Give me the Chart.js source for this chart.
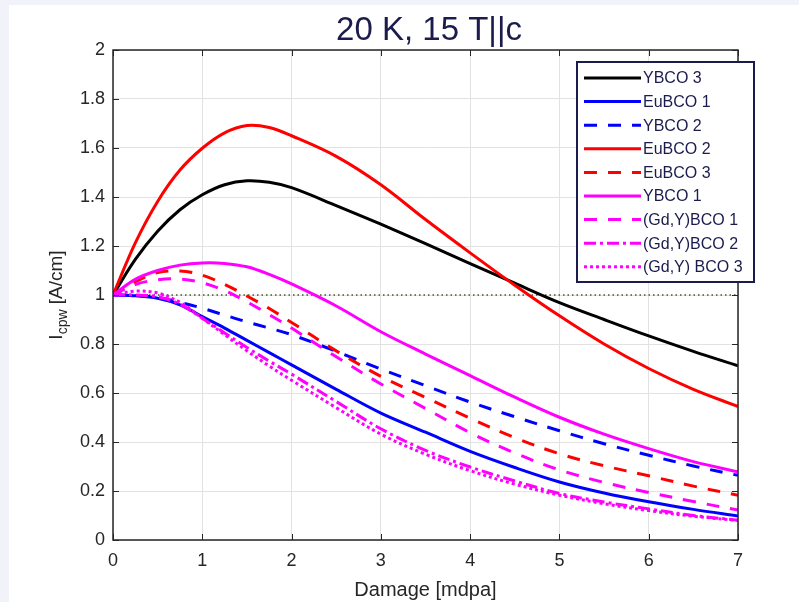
<!DOCTYPE html>
<html>
<head>
<meta charset="utf-8">
<script src="https://cdn.jsdelivr.net/npm/chart.js@4/dist/chart.umd.min.js"></script>
<style>
  html, body { margin: 0; padding: 0; background: #f2f2fb; width: 799px; height: 602px; overflow: hidden; }
  #wrap { position: absolute; left: 9px; top: 5px; width: 790px; height: 597px; background: #ffffff; }
  canvas { display: block; }
</style>
</head>
<body>
<div id="wrap"><canvas id="c" width="790" height="597"></canvas></div>
<script>
// ---- data ----
const damage = [0, 0.25, 0.5, 0.75, 1, 1.25, 1.5, 1.75, 2, 2.5, 3, 3.5, 4, 4.5, 5, 5.5, 6, 6.5, 7];
const ybco3  = [1, 1.145, 1.26, 1.348, 1.409, 1.450, 1.466, 1.460, 1.438, 1.365, 1.289, 1.21, 1.128, 1.048, 0.969, 0.90, 0.833, 0.77, 0.711];
const eubco1 = [1, 0.997, 0.987, 0.96, 0.912, 0.865, 0.815, 0.765, 0.715, 0.615, 0.518, 0.44, 0.362, 0.296, 0.237, 0.192, 0.156, 0.125, 0.098];
const ybco2  = [1, 0.998, 0.99, 0.97, 0.946, 0.918, 0.89, 0.865, 0.838, 0.77, 0.698, 0.63, 0.563, 0.503, 0.446, 0.393, 0.346, 0.302, 0.264];
const eubco2 = [1, 1.213, 1.382, 1.51, 1.599, 1.662, 1.692, 1.684, 1.650, 1.566, 1.45, 1.308, 1.172, 1.04, 0.915, 0.80, 0.70, 0.615, 0.545];
const eubco3 = [1, 1.054, 1.092, 1.098, 1.081, 1.043, 0.996, 0.945, 0.888, 0.772, 0.668, 0.582, 0.497, 0.418, 0.352, 0.303, 0.262, 0.22, 0.183];
const ybco1  = [1, 1.064, 1.100, 1.122, 1.131, 1.129, 1.115, 1.084, 1.045, 0.955, 0.850, 0.759, 0.671, 0.583, 0.501, 0.432, 0.373, 0.320, 0.278];
const gdy1   = [1, 1.043, 1.062, 1.065, 1.05, 1.018, 0.972, 0.92, 0.865, 0.748, 0.637, 0.537, 0.438, 0.355, 0.286, 0.235, 0.194, 0.157, 0.122];
const gdy2   = [1, 1.0, 0.993, 0.962, 0.905, 0.845, 0.786, 0.73, 0.677, 0.565, 0.454, 0.366, 0.298, 0.241, 0.19, 0.155, 0.127, 0.10, 0.081];
const gdy3   = [1, 1.016, 1.008, 0.97, 0.905, 0.838, 0.772, 0.71, 0.652, 0.54, 0.432, 0.35, 0.283, 0.228, 0.183, 0.148, 0.12, 0.097, 0.08];
const refX   = [0, 7];
const refY   = [1, 1];

const seriesNames = ['YBCO 3', 'EuBCO 1', 'YBCO 2', 'EuBCO 2', 'EuBCO 3', 'YBCO 1', '(Gd,Y)BCO 1', '(Gd,Y)BCO 2', '(Gd,Y) BCO 3'];
const seriesValues = [ybco3, eubco1, ybco2, eubco2, eubco3, ybco1, gdy1, gdy2, gdy3];
const xTickValues = [0, 1, 2, 3, 4, 5, 6, 7];
const yTickValues = [0, 0.2, 0.4, 0.6, 0.8, 1, 1.2, 1.4, 1.6, 1.8, 2];
const titleText = '20 K, 15 T||c';
const xTitleText = 'Damage [mdpa]';

// ---- styles ----
const seriesColors = ['#000000', '#0000ff', '#0000ff', '#ff0000', '#ff0000', '#ff00ff', '#ff00ff', '#ff00ff', '#ff00ff'];
const seriesDash = [[], [], [13, 11], [], [13, 11], [], [13, 11], [12, 4, 3, 4], [3, 3]];
const FONT = "'Liberation Sans', Arial, Helvetica, sans-serif";
const NAVY = '#1b1b4d';
const AXC = '#262626';

const datasets = seriesNames.map((name, i) => ({
  label: name,
  data: damage.map((d, k) => ({ x: d, y: seriesValues[i][k] })),
  borderColor: seriesColors[i],
  borderWidth: 3,
  borderDash: seriesDash[i],
  borderCapStyle: 'butt',
  pointRadius: 0,
  fill: false,
  tension: 0.35,
  order: seriesNames.length - i
}));
datasets.push({
  label: 'ref',
  data: refX.map((x, k) => ({ x: x, y: refY[k] })),
  borderColor: '#46552a',
  borderWidth: 1.5,
  borderDash: [1.5, 3],
  pointRadius: 0,
  fill: false,
  order: 100
});

const decor = {
  id: 'decor',
  afterDraw(chart) {
    const ctx = chart.ctx;
    const a = chart.chartArea;
    const xs = chart.scales.x, ys = chart.scales.y;
    ctx.save();
    // box
    ctx.strokeStyle = AXC;
    ctx.lineWidth = 1.5;
    ctx.strokeRect(a.left, a.top, a.right - a.left, a.bottom - a.top);
    // inward ticks
    ctx.lineWidth = 1;
    ctx.beginPath();
    xTickValues.forEach(v => {
      const px = Math.round(xs.getPixelForValue(v)) + 0.5;
      ctx.moveTo(px, a.bottom); ctx.lineTo(px, a.bottom - 6);
      ctx.moveTo(px, a.top); ctx.lineTo(px, a.top + 6);
    });
    yTickValues.forEach(v => {
      const py = Math.round(ys.getPixelForValue(v)) + 0.5;
      ctx.moveTo(a.left, py); ctx.lineTo(a.left + 6, py);
      ctx.moveTo(a.right, py); ctx.lineTo(a.right - 6, py);
    });
    ctx.stroke();

    // title
    ctx.fillStyle = NAVY;
    ctx.font = '33px ' + FONT;
    ctx.textAlign = 'center';
    ctx.textBaseline = 'alphabetic';
    ctx.fillText(titleText, 420, 35);

    // x title
    ctx.fillStyle = AXC;
    ctx.font = '20px ' + FONT;
    ctx.fillText(xTitleText, (a.left + a.right) / 2, 591);

    // y title with subscript
    ctx.save();
    ctx.translate(53, (a.top + a.bottom) / 2);
    ctx.rotate(-Math.PI / 2);
    const big = '19px ' + FONT, small = '14px ' + FONT;
    ctx.font = big; const wI = ctx.measureText('I').width;
    const wRest = ctx.measureText(' [A/cm]').width;
    ctx.font = small; const wSub = ctx.measureText('cpw').width;
    let x0 = -(wI + wSub + wRest) / 2;
    ctx.textAlign = 'left';
    ctx.font = big; ctx.fillText('I', x0, 0);
    ctx.font = small; ctx.fillText('cpw', x0 + wI, 5);
    ctx.font = big; ctx.fillText(' [A/cm]', x0 + wI + wSub, 0);
    ctx.restore();

    // legend
    const lx = 568, ly = 57, lw = 177, lh = 220;
    ctx.fillStyle = '#ffffff';
    ctx.fillRect(lx, ly, lw, lh);
    ctx.strokeStyle = NAVY;
    ctx.lineWidth = 2;
    ctx.strokeRect(lx, ly, lw, lh);
    ctx.font = '16px ' + FONT;
    ctx.textBaseline = 'middle';
    ctx.textAlign = 'left';
    seriesNames.forEach((name, i) => {
      const y = ly + 16 + i * 23.6;
      ctx.beginPath();
      ctx.strokeStyle = seriesColors[i];
      ctx.lineWidth = 3;
      ctx.lineCap = 'butt';
      ctx.setLineDash(seriesDash[i]);
      ctx.moveTo(lx + 7, y);
      ctx.lineTo(lx + 64, y);
      ctx.stroke();
      ctx.setLineDash([]);
      ctx.fillStyle = NAVY;
      ctx.fillText(name, lx + 66, y + 1);
    });
    ctx.restore();
  }
};

new Chart(document.getElementById('c'), {
  type: 'line',
  data: { datasets: datasets },
  options: {
    responsive: false,
    animation: false,
    devicePixelRatio: 1,
    layout: { padding: { left: 0, right: 61, top: 45, bottom: 0 } },
    plugins: { legend: { display: false }, title: { display: false }, tooltip: { enabled: false } },
    scales: {
      x: {
        type: 'linear', min: 0, max: 7,
        afterBuildTicks: s => { s.ticks = xTickValues.map(v => ({ value: v })); },
        afterFit: s => { s.height = 62; },
        grid: { color: '#e2e2e2', lineWidth: 1, drawTicks: false },
        border: { display: false },
        ticks: { color: AXC, font: { size: 18, family: FONT }, padding: 10, maxRotation: 0,
                 callback: v => String(v) }
      },
      y: {
        type: 'linear', min: 0, max: 2,
        afterBuildTicks: s => { s.ticks = yTickValues.map(v => ({ value: v })); },
        afterFit: s => { s.width = 104; },
        grid: { color: '#e2e2e2', lineWidth: 1, drawTicks: false },
        border: { display: false },
        ticks: { color: AXC, font: { size: 18, family: FONT }, padding: 8,
                 callback: v => String(+v.toFixed(1)) }
      }
    }
  },
  plugins: [decor]
});
</script>
</body>
</html>
